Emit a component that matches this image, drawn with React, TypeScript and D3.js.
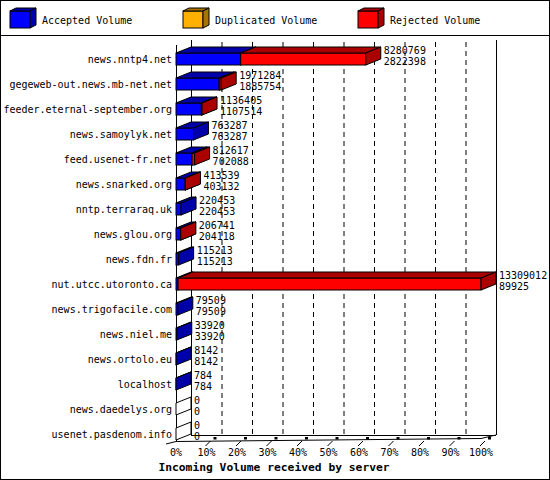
import * as React from "react";
import { scaleLinear, scaleBand, stack, max, range } from "d3";

const hosts = [
  "news.nntp4.net",
  "gegeweb-out.news.mb-net.net",
  "feeder.eternal-september.org",
  "news.samoylyk.net",
  "feed.usenet-fr.net",
  "news.snarked.org",
  "nntp.terraraq.uk",
  "news.glou.org",
  "news.fdn.fr",
  "nut.utcc.utoronto.ca",
  "news.trigofacile.com",
  "news.niel.me",
  "news.ortolo.eu",
  "localhost",
  "news.daedelys.org",
  "usenet.pasdenom.info",
];
const totalVolume = [
  8280769, 1971284, 1136405, 763287, 812617, 413539, 220453, 206741, 115213,
  13309012, 79509, 33920, 8142, 784, 0, 0,
];
const acceptedVolume = [
  2822398, 1885754, 1107514, 763287, 702088, 403132, 220453, 204118, 115213,
  89925, 79509, 33920, 8142, 784, 0, 0,
];
const duplicatedVolume = [0, 0, 0, 0, 0, 0, 0, 0, 0, 0, 0, 0, 0, 0, 0, 0];
const percentTicks = range(0, 101, 10);

const seriesKeys = ["accepted", "duplicated", "rejected"];
const legendLabels = ["Accepted Volume", "Duplicated Volume", "Rejected Volume"];
const frontColors = ["#0000ff", "#ffb000", "#ff0000"];
const darkColors = ["#0000a8", "#a87400", "#aa0000"];

const FONT = "DejaVu Sans Mono, Liberation Mono, monospace";
const DX = 15; // depth
const DY = -6;

function App() {
  const rows = hosts.map((h, i) => ({
    host: h,
    accepted: acceptedVolume[i],
    duplicated: duplicatedVolume[i],
    rejected: totalVolume[i] - acceptedVolume[i] - duplicatedVolume[i],
  }));
  const stacked = stack<any>().keys(seriesKeys)(rows);

  const x0 = 176;
  const x1 = 481;
  const xScale = scaleLinear()
    .domain([0, max(totalVolume) as number])
    .range([x0, x1]);
  const pct = scaleLinear().domain([0, 100]).range([x0, x1]);
  const yScale = scaleBand().domain(hosts).range([46.5, 446.5]);
  const floorY = 441;
  const barH = 12;

  // one 3d box: front, top, right side
  const box = (xa: number, xb: number, yc: number, ci: number, key: string) => {
    const yt = yc - barH / 2;
    const yb = yc + barH / 2;
    return (
      <g key={key} stroke="#000" strokeWidth={1} strokeLinejoin="miter">
        <rect x={xa} y={yt} width={xb - xa} height={barH} fill={frontColors[ci]} />
        <polygon
          points={`${xa},${yt} ${xb},${yt} ${xb + DX},${yt + DY} ${xa + DX},${yt + DY}`}
          fill={darkColors[ci]}
        />
        <polygon
          points={`${xb},${yt} ${xb + DX},${yt + DY} ${xb + DX},${yb + DY} ${xb},${yb}`}
          fill={darkColors[ci]}
        />
      </g>
    );
  };

  return (
    <svg
      width={550}
      height={480}
      style={{ position: "absolute", left: 0, top: 0, background: "#fff" }}
      fontFamily={FONT}
      fontSize={10}
    >
      <rect x={0.5} y={0.5} width={549} height={479} fill="#fff" stroke="#000" />
      <line x1={0} x2={550} y1={35.5} y2={35.5} stroke="#000" />

      {/* legend */}
      {legendLabels.map((lab, i) => {
        const lx = [10, 183, 358][i];
        return (
          <g key={lab} stroke="#000">
            <rect x={lx} y={11} width={20} height={17} fill={frontColors[i]} />
            <polygon
              points={`${lx},11 ${lx + 20},11 ${lx + 26},8 ${lx + 6},8`}
              fill={darkColors[i]}
            />
            <polygon
              points={`${lx + 20},11 ${lx + 26},8 ${lx + 26},25 ${lx + 20},28`}
              fill={darkColors[i]}
            />
            <text x={lx + 32} y={20} dy="0.35em" stroke="none" fill="#000">
              {lab}
            </text>
          </g>
        );
      })}

      {/* back wall grid */}
      {percentTicks.slice(1, 10).map((t) => (
        <line
          key={"g" + t}
          x1={pct(t) + DX + 0.5}
          x2={pct(t) + DX + 0.5}
          y1={42}
          y2={floorY + DY}
          stroke="#000"
          strokeDasharray="5,4"
        />
      ))}
      <line x1={x0 + DX + 0.5} x2={x0 + DX + 0.5} y1={40} y2={floorY + DY} stroke="#000" />
      <line x1={x1 + DX + 0.5} x2={x1 + DX + 0.5} y1={40} y2={floorY + DY} stroke="#000" />
      <line x1={x0 + 0.5} x2={x0 + 0.5} y1={45} y2={floorY} stroke="#000" />

      {/* floor */}
      <polyline
        points={`${x0 - 10},${floorY + 3} ${x0},${floorY + 0.5} ${x1},${floorY - 2.5} ${x1 + DX},${floorY + DY}`}
        fill="none"
        stroke="#000"
      />
      <line x1={x0 + DX} x2={x1 + DX} y1={floorY + DY + 0.5} y2={floorY + DY + 0.5} stroke="#000" />
      {percentTicks.slice(1).map((t) => (
        <g key={"t" + t}>
          <line x1={pct(t) - 1} y1={floorY + 5} x2={pct(t) + 4} y2={floorY} stroke="#000" />
          <rect x={pct(t) + 7} y={floorY - 4} width={3} height={2.5} fill="#000" />
        </g>
      ))}

      {/* bars */}
      {rows.map((r, i) => {
        const yc = (yScale(r.host) as number) + yScale.bandwidth() / 2;
        if (totalVolume[i] === 0) {
          const yt = yc - barH / 2;
          const yb = yc + barH / 2;
          return (
            <polygon
              key={r.host}
              points={`${x0},${yt} ${x0 + DX},${yt + DY} ${x0 + DX},${yb + DY} ${x0},${yb}`}
              fill="#fff"
              stroke="#000"
            />
          );
        }
        return (
          <g key={r.host}>
            {stacked.map((s, ci) => {
              const [a, b] = s[i];
              if (b - a <= 0) return null;
              return box(xScale(a), xScale(b), yc, ci, s.key + i);
            })}
          </g>
        );
      })}

      {/* category labels and values */}
      {rows.map((r, i) => {
        const yc = (yScale(r.host) as number) + yScale.bandwidth() / 2;
        const vx = xScale(totalVolume[i]) + DX + 3;
        return (
          <g key={"l" + r.host}>
            <text x={172} y={yc} dy="0.35em" textAnchor="end">
              {r.host}
            </text>
            <text x={vx} y={yc - 9} dy="0.35em">
              {totalVolume[i]}
            </text>
            <text x={vx} y={yc + 2} dy="0.35em">
              {acceptedVolume[i]}
            </text>
          </g>
        );
      })}

      {percentTicks.map((t) => (
        <text key={"p" + t} x={pct(t)} y={452} dy="0.35em" textAnchor="middle">
          {t + "%"}
        </text>
      ))}
      <text x={274} y={467} dy="0.35em" textAnchor="middle" fontWeight="bold" fontSize={11.3}>
        Incoming Volume received by server
      </text>
    </svg>
  );
}

export default App;
